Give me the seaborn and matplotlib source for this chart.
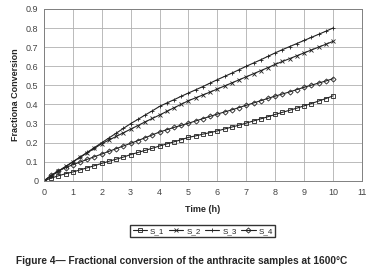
import numpy as np
import pandas as pd
import seaborn as sns
import matplotlib.pyplot as plt

# time axis: readings every 0.25 h
time_h = np.arange(0, 10.001, 0.25)

s_1 = [0.000, 0.015, 0.027, 0.038, 0.047, 0.058, 0.069, 0.080, 0.092, 0.103, 0.114,
       0.125, 0.138, 0.149, 0.160, 0.171, 0.183, 0.194, 0.205, 0.216, 0.228, 0.236,
       0.245, 0.253, 0.262, 0.272, 0.282, 0.292, 0.303, 0.314, 0.325, 0.336, 0.348,
       0.359, 0.370, 0.381, 0.393, 0.405, 0.418, 0.431, 0.445]
s_2 = [0.000, 0.028, 0.052, 0.076, 0.100, 0.124, 0.147, 0.171, 0.195, 0.214, 0.233,
       0.252, 0.271, 0.290, 0.309, 0.327, 0.345, 0.364, 0.383, 0.401, 0.420, 0.435,
       0.450, 0.465, 0.481, 0.497, 0.513, 0.529, 0.545, 0.561, 0.577, 0.593, 0.610,
       0.625, 0.640, 0.655, 0.670, 0.685, 0.700, 0.715, 0.730]
s_3 = [0.000, 0.026, 0.050, 0.075, 0.100, 0.125, 0.150, 0.175, 0.200, 0.225, 0.250,
       0.275, 0.300, 0.322, 0.345, 0.367, 0.390, 0.408, 0.425, 0.443, 0.460, 0.477,
       0.494, 0.512, 0.530, 0.547, 0.564, 0.582, 0.600, 0.617, 0.634, 0.652, 0.670,
       0.687, 0.703, 0.719, 0.735, 0.751, 0.767, 0.783, 0.800]
s_4 = [0.000, 0.030, 0.052, 0.070, 0.085, 0.099, 0.113, 0.127, 0.141, 0.155, 0.169,
       0.183, 0.197, 0.211, 0.226, 0.241, 0.256, 0.268, 0.280, 0.291, 0.302, 0.314,
       0.326, 0.338, 0.350, 0.361, 0.372, 0.384, 0.396, 0.408, 0.420, 0.432, 0.444,
       0.455, 0.466, 0.478, 0.490, 0.501, 0.512, 0.523, 0.535]

series = {'S_1': s_1, 'S_2': s_2, 'S_3': s_3, 'S_4': s_4}
markers = {'S_1': 's', 'S_2': 'x', 'S_3': '+', 'S_4': 'D'}

sns.set_style('white')
plt.rcParams['font.family'] = ['Liberation Sans', 'DejaVu Sans']

fig = plt.figure(figsize=(3.72, 2.78), dpi=100)
ax = fig.add_axes([0.118, 0.349, 0.855, 0.619])

for name, vals in series.items():
    df = pd.DataFrame({'t': time_h, 'x': vals})
    m = markers[name]
    filled = m in ('x', '+')
    sns.lineplot(data=df, x='t', y='x', ax=ax, color='#222222', linewidth=0.8,
                 marker=m, markersize=3.2 if m != 'D' else 2.6,
                 markerfacecolor='none' if not filled else '#222222',
                 markeredgecolor='#222222', markeredgewidth=0.6, label=name)

ax.set_xlim(0, 11)
ax.set_ylim(0, 0.9)
ax.set_xticks(range(0, 12))
ax.set_yticks(np.arange(0, 0.91, 0.1))
ax.set_yticklabels(['0'] + [f'{v:.1f}' for v in np.arange(0.1, 0.91, 0.1)])
ax.grid(True, color='#b0b0b0', linewidth=0.6)
for sp in ax.spines.values():
    sp.set_color('#808080')
    sp.set_linewidth(0.7)
ax.tick_params(labelsize=6.5, colors='#444444', length=0)
ax.tick_params(axis='x', pad=5)
ax.tick_params(axis='y', pad=4)
ax.set_xlabel('Time (h)', fontsize=6.5, fontweight='bold', labelpad=6)
ax.set_ylabel('Fractiona Conversion', fontsize=6.5, fontweight='bold', labelpad=4)

handles, labels = ax.get_legend_handles_labels()
ax.get_legend().remove()
fig.legend(handles, labels, loc='center', bbox_to_anchor=(0.545, 0.169), ncol=4,
           fontsize=5.8, frameon=True, fancybox=False, edgecolor='#333333',
           handlelength=1.8, handletextpad=0.35, columnspacing=0.55,
           borderpad=0.3, framealpha=1)

fig.text(0.043, 0.061, 'Figure 4\u2014 Fractional conversion of the anthracite samples at 1600\u00b0C',
         fontsize=7.3, fontweight='bold', ha='left', va='center')

fig.savefig('out.png', dpi=100)
